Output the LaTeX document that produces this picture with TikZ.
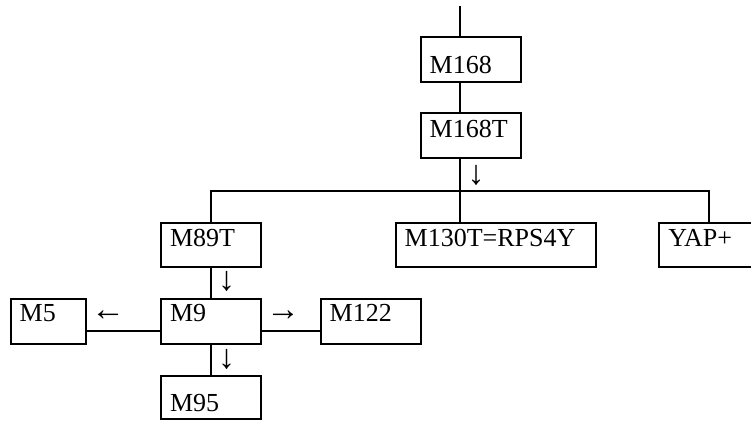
\documentclass[tikz,border=0pt]{standalone}
\usepackage{fontspec}
\setmainfont{Liberation Serif}
\usepackage{tikz}
\usetikzlibrary{positioning}

\begin{document}
\begin{tikzpicture}[
    x=1pt, y=-1pt,
    line width=2pt,
    box/.style={rectangle, draw, anchor=north west, outer sep=0pt, inner xsep=9pt, inner ysep=0pt,
        align=left, text width=82pt, text height=24pt, text depth=20pt, font=\fontsize{26}{30}\selectfont},
    lowbox/.style={box, text height=37pt, text depth=8pt},
    sign/.style={inner sep=0pt, font=\fontsize{34}{38}\selectfont}
]
\useasboundingbox (0,0) rectangle (751,420);

% Upper chain
\coordinate (top) at (460,6);
\node[lowbox] (m168) at (420.7,36.7) {M168};
\node[box, text height=24.4pt, text depth=20.6pt] (m168t) at (420.7,113.3) {M168T};
\coordinate (split) at (460,191);

% Second row
\node[box] (m89t) at (161,222.7) {M89T};
\node[box, text width=182pt] (m130t) at (395.7,222.7) {M130T=RPS4Y};
\node[box] (yap) at (659.3,222.7) {YAP+};

% Third row
\node[box, text width=57.3pt, text height=23pt, text depth=22.3pt] (m5) at (10.7,298.7) {M5};
\node[box, text height=23pt, text depth=22.3pt] (m9) at (161,298.7) {M9};
\node[box, text height=23pt, text depth=22.3pt] (m122) at (320.7,298.7) {M122};
\node[lowbox, text height=36pt, text depth=7.3pt] (m95) at (161,375.7) {M95};

% Connections
\draw (top) -- (top |- m168.north);
\draw (m168.south -| top) -- (m168t.north -| top);
\draw (m168t.south -| top) -- (split);
\draw (m89t.north) |- (split) -| (yap.north);
\draw (split) -- (split |- m130t.north);
\draw (m89t) -- (m9);
\draw (m9) -- (m95);
\draw ([yshift=-9.4pt]m5.east) -- ([yshift=-9.4pt]m9.west);
\draw ([yshift=-9.4pt]m9.east) -- ([yshift=-9.4pt]m122.west);

% Arrow signs
\node[sign] (d1) at (476,175.5) {↓};
\node[sign] (d2) at (226.5,281.5) {↓};
\node[sign] (l1) at (108,315.7) {←};
\node[sign] (r1) at (283,315.7) {→};
\node[sign] (d3) at (226.5,359) {↓};

\end{tikzpicture}
\end{document}
